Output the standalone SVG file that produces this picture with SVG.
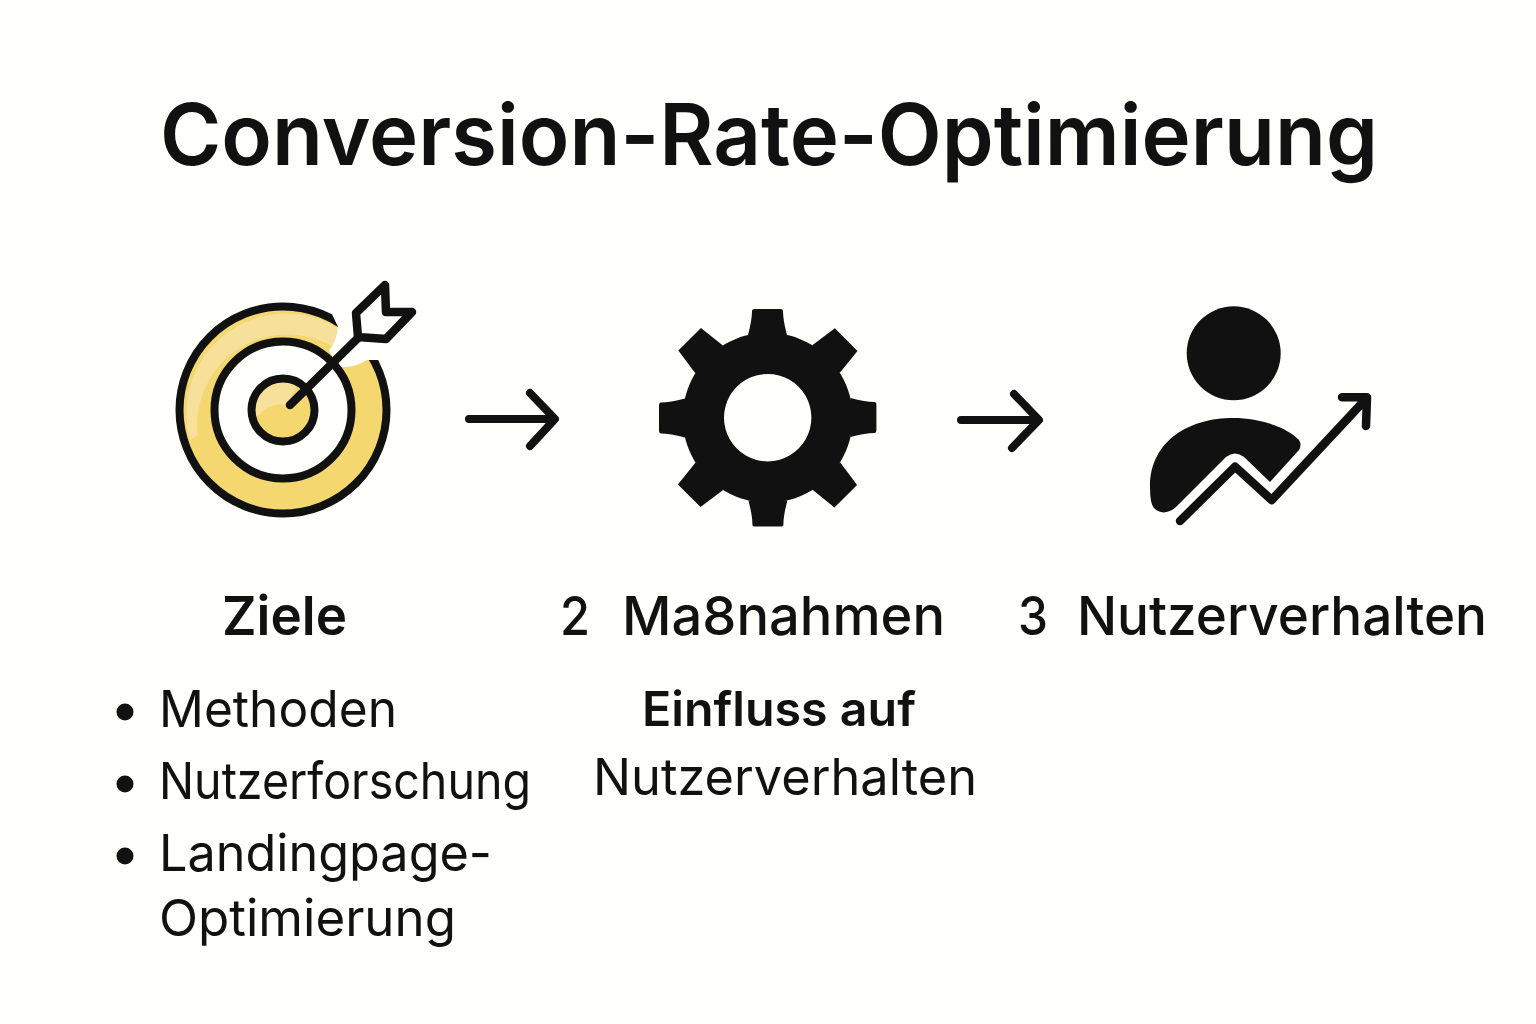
<svg xmlns="http://www.w3.org/2000/svg" width="1536" height="1024" viewBox="0 0 1536 1024">
<style>
text{font-family:"Inter","Liberation Sans",sans-serif;fill:#111;}
.title{font-size:85px;font-weight:600;}
.h{font-size:54px;font-weight:500;}
.b{font-size:51px;font-weight:400;}
.sb{font-size:48px;font-weight:600;}
.ln{fill:none;stroke:#111;stroke-width:8.500;stroke-linecap:round;stroke-linejoin:round;}
.conn{fill:none;stroke:#111;stroke-width:8;stroke-linecap:round;stroke-linejoin:round;}
</style>
<defs>
<path id="t" d="M748 335Q752 320 752 311Q752 309 755 309H780Q783 309 783 311Q783 320 787 335Z"/>
<path id="d" d="M748 335L752 307H784L787 335Z"/>
</defs>
<rect width="1536" height="1024" fill="#fffffb"/>
<text class="title" x="160" y="165" textLength="1218" lengthAdjust="spacingAndGlyphs">Conversion-Rate-Optimierung</text>
<g id="ziele">
<circle cx="283" cy="410" r="86" fill="none" stroke="#f4d76f" stroke-width="30"/>
<path d="M190 440A100 100 0 0 1 340 329L338 350A90 90 0 0 0 198 435Z" fill="#f6e09a"/>
<circle cx="283" cy="410" r="103.500" fill="none" stroke="#111" stroke-width="8"/>
<path d="M331 312L338 327Q337 340 329 351L340 367Q355 368 367 360L380 360L400 340L380 290L345 295Z" fill="#fffffb"/>
<circle cx="283" cy="410" r="68.500" fill="#fffffb" stroke="#111" stroke-width="8"/>
<circle cx="283" cy="410" r="31.500" fill="#f4d76f"/>
<path d="M256 418A28 28 0 0 1 296 386L288 405Q268 402 256 418Z" fill="#f6e09a"/>
<circle cx="283" cy="410" r="31.500" fill="none" stroke="#111" stroke-width="8"/>
<path class="ln" d="M290 405L358 338"/>
<path class="ln" d="M385 285L356 313L358 337L386 339L412 312L386 312Z"/>
<text class="h" x="222" y="635" textLength="125" lengthAdjust="spacingAndGlyphs" font-weight="600" style="font-weight:600">Ziele</text>
<circle cx="125" cy="712" r="8.500" fill="#111"/>
<text class="b" x="159" y="727" textLength="238" lengthAdjust="spacingAndGlyphs">Methoden</text>
<circle cx="125" cy="784" r="8.500" fill="#111"/>
<text class="b" x="159" y="799" textLength="372" lengthAdjust="spacingAndGlyphs">Nutzerforschung</text>
<circle cx="125" cy="856" r="8.500" fill="#111"/>
<text class="b" x="159" y="871" textLength="333" lengthAdjust="spacingAndGlyphs">Landingpage-</text>
<text class="b" x="159" y="936" textLength="297" lengthAdjust="spacingAndGlyphs">Optimierung</text>
</g>
<g id="massnahmen">
<g fill="#111">
<path fill-rule="evenodd" d="M767.700 332.700a85 85 0 1 0 .01 0Z M767.700 374a43.700 43.700 0 1 1-.01 0Z"/>
<use href="#d" transform="rotate(45 767.700 417.700)"/>
<use href="#t" transform="rotate(90 767.700 417.700)"/>
<use href="#d" transform="rotate(135 767.700 417.700)"/>
<use href="#t" transform="rotate(180 767.700 417.700)"/>
<use href="#d" transform="rotate(225 767.700 417.700)"/>
<use href="#t" transform="rotate(270 767.700 417.700)"/>
<use href="#d" transform="rotate(315 767.700 417.700)"/>
<use href="#t"/>
</g>
<text class="h" x="560" y="635" textLength="30" lengthAdjust="spacingAndGlyphs">2</text>
<text class="h" x="622" y="635" textLength="323" lengthAdjust="spacingAndGlyphs">Ma8nahmen</text>
<text class="sb" x="642" y="726" textLength="274" lengthAdjust="spacingAndGlyphs">Einfluss auf</text>
<text class="b" x="593" y="795" textLength="384" lengthAdjust="spacingAndGlyphs">Nutzerverhalten</text>
</g>
<g id="nutzerverhalten">
<circle cx="1233.700" cy="353.300" r="47" fill="#111"/>
<path fill="#111" d="M1150 487C1150 440 1190 418 1233 418C1265 418 1290 430 1299 440Q1302 445 1299 450L1270 482L1244 457Q1235 450 1226 457L1176 507C1168 514 1160 514 1154 508Q1150 504 1150 487Z"/>
<path class="ln" d="M1180 521L1235 466.700L1271.700 500L1365 400M1342 397.300L1367 397.300L1366 426"/>
<text class="h" x="1018" y="635" textLength="30" lengthAdjust="spacingAndGlyphs">3</text>
<text class="h" x="1077" y="635" textLength="410" lengthAdjust="spacingAndGlyphs">Nutzerverhalten</text>
</g>
<g id="connectors">
<path class="conn" d="M469 419H554M530 393L555 419L530 446"/>
<path class="conn" d="M961 420H1038M1014 394L1039 420L1012 448"/>
</g>
</svg>
